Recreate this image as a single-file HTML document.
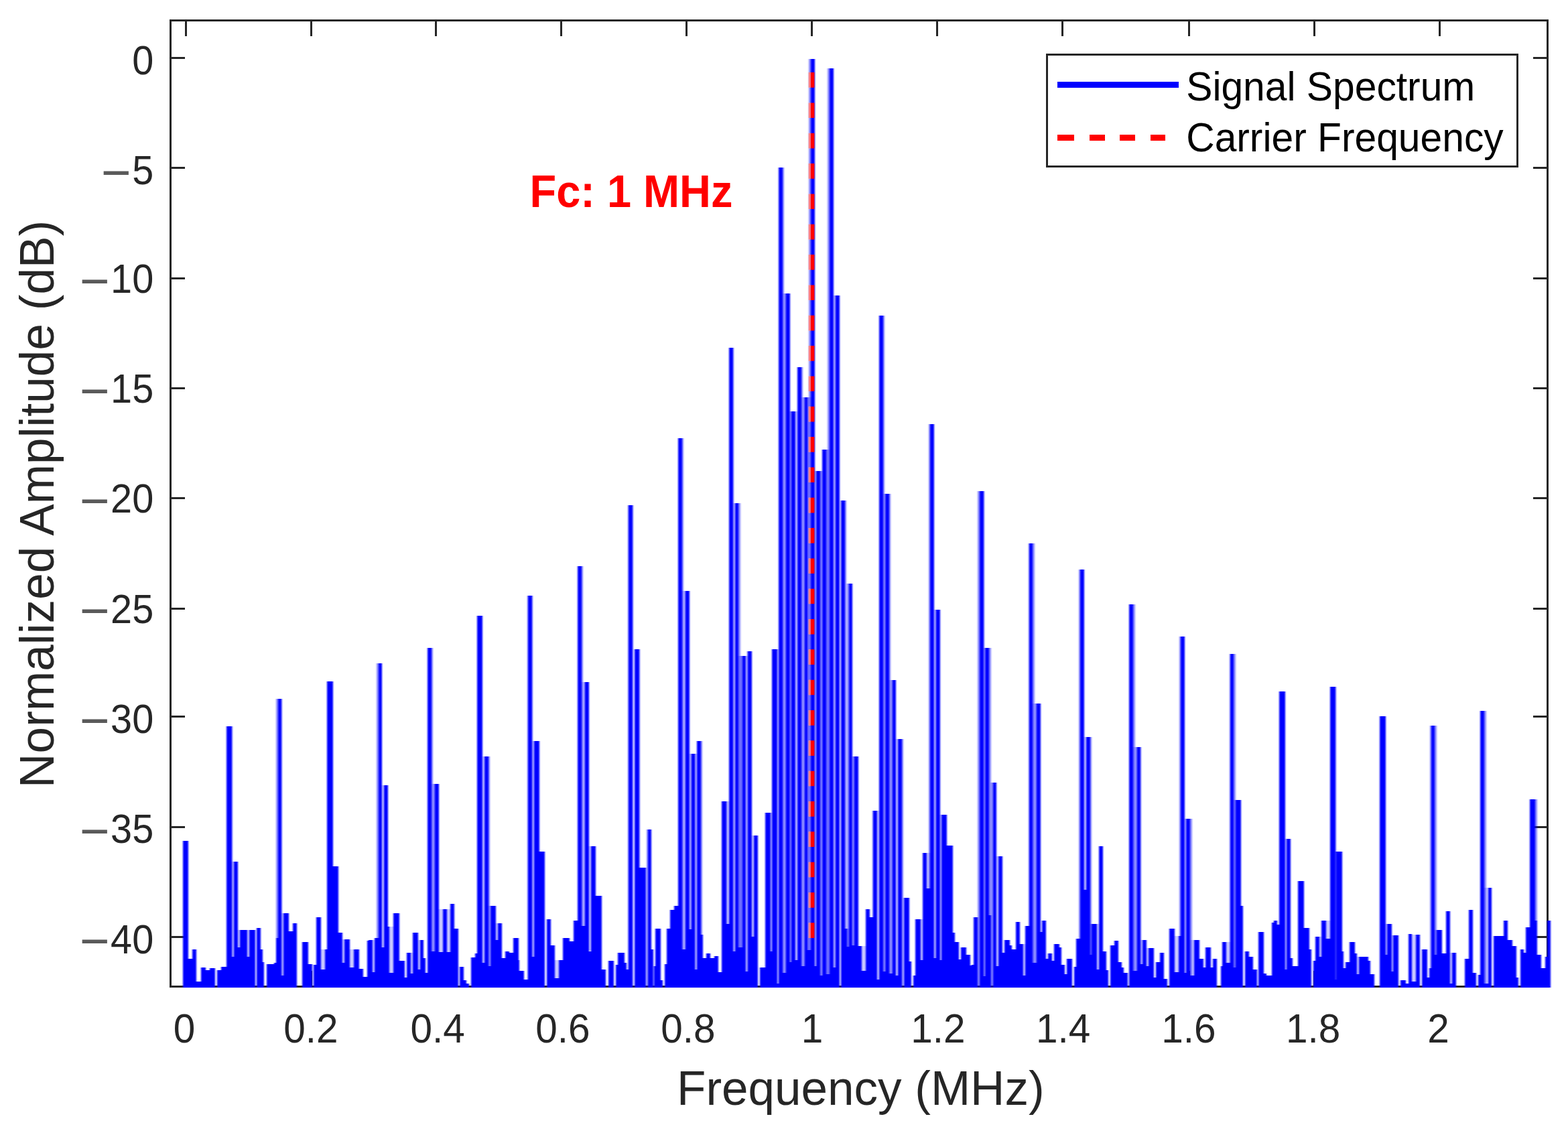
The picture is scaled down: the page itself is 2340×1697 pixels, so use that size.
<!DOCTYPE html>
<html><head><meta charset="utf-8"><title>Signal Spectrum</title>
<style>
html,body{margin:0;padding:0;background:#fff}
svg{display:block}
text{font-family:"Liberation Sans",Arial,Helvetica,sans-serif}
</style></head><body>
<svg width="2340" height="1697" viewBox="0 0 2340 1697">
<rect width="2340" height="1697" fill="#fff"/>

<g stroke="#262626" stroke-width="3" fill="none" shape-rendering="crispEdges">
<rect x="254.5" y="30.5" width="2055.0" height="1442.0"/>
<path d="M277.3 1472.5v-23.3M277.3 30.5v23.3"/>
<path d="M464.0 1472.5v-23.3M464.0 30.5v23.3"/>
<path d="M650.7 1472.5v-23.3M650.7 30.5v23.3"/>
<path d="M837.5 1472.5v-23.3M837.5 30.5v23.3"/>
<path d="M1024.5 1472.5v-23.3M1024.5 30.5v23.3"/>
<path d="M1211.4 1472.5v-23.3M1211.4 30.5v23.3"/>
<path d="M1398.3 1472.5v-23.3M1398.3 30.5v23.3"/>
<path d="M1585.0 1472.5v-23.3M1585.0 30.5v23.3"/>
<path d="M1774.5 1472.5v-23.3M1774.5 30.5v23.3"/>
<path d="M1961.4 1472.5v-23.3M1961.4 30.5v23.3"/>
<path d="M2148.4 1472.5v-23.3M2148.4 30.5v23.3"/>
<path d="M254.5 86.6h21.5M2309.5 86.6h-21.5"/>
<path d="M254.5 250.5h21.5M2309.5 250.5h-21.5"/>
<path d="M254.5 415.2h21.5M2309.5 415.2h-21.5"/>
<path d="M254.5 579.5h21.5M2309.5 579.5h-21.5"/>
<path d="M254.5 743.8h21.5M2309.5 743.8h-21.5"/>
<path d="M254.5 908.2h21.5M2309.5 908.2h-21.5"/>
<path d="M254.5 1069.7h21.5M2309.5 1069.7h-21.5"/>
<path d="M254.5 1234.0h21.5M2309.5 1234.0h-21.5"/>
<path d="M254.5 1398.4h21.5M2309.5 1398.4h-21.5"/>
</g>
<text transform="translate(275.0 1555.6) scale(0.9435 1.0)" text-anchor="middle" style="font-size:62px;fill:#262626">0</text>
<text transform="translate(463.9 1555.6) scale(0.9435 1.0)" text-anchor="middle" style="font-size:62px;fill:#262626">0.2</text>
<text transform="translate(653.1 1555.6) scale(0.9435 1.0)" text-anchor="middle" style="font-size:62px;fill:#262626">0.4</text>
<text transform="translate(839.9 1555.6) scale(0.9435 1.0)" text-anchor="middle" style="font-size:62px;fill:#262626">0.6</text>
<text transform="translate(1027.0 1555.6) scale(0.9435 1.0)" text-anchor="middle" style="font-size:62px;fill:#262626">0.8</text>
<text transform="translate(1211.9 1555.6) scale(0.9435 1.0)" text-anchor="middle" style="font-size:62px;fill:#262626">1</text>
<text transform="translate(1400.0 1555.6) scale(0.9435 1.0)" text-anchor="middle" style="font-size:62px;fill:#262626">1.2</text>
<text transform="translate(1586.7 1555.6) scale(0.9435 1.0)" text-anchor="middle" style="font-size:62px;fill:#262626">1.4</text>
<text transform="translate(1774.0 1555.6) scale(0.9435 1.0)" text-anchor="middle" style="font-size:62px;fill:#262626">1.6</text>
<text transform="translate(1959.6 1555.6) scale(0.9435 1.0)" text-anchor="middle" style="font-size:62px;fill:#262626">1.8</text>
<text transform="translate(2146.4 1555.6) scale(0.9435 1.0)" text-anchor="middle" style="font-size:62px;fill:#262626">2</text>
<text transform="translate(229.2 111.2) scale(0.929 1.0)" text-anchor="end" style="font-size:62px;fill:#262626">0</text>
<text style="font-size:62px;fill:#262626"><tspan x="151.8" y="278.5" textLength="43" lengthAdjust="spacingAndGlyphs" style="fill:#5a5a5a;stroke:#5a5a5a;stroke-width:1.2px">−</tspan><tspan x="197.2" y="274.9" textLength="32.0" lengthAdjust="spacingAndGlyphs">5</tspan></text>
<text style="font-size:62px;fill:#262626"><tspan x="119.7" y="440.6" textLength="43" lengthAdjust="spacingAndGlyphs" style="fill:#5a5a5a;stroke:#5a5a5a;stroke-width:1.2px">−</tspan><tspan x="165.1" y="437.0" textLength="64.1" lengthAdjust="spacingAndGlyphs">10</tspan></text>
<text style="font-size:62px;fill:#262626"><tspan x="119.7" y="604.5" textLength="43" lengthAdjust="spacingAndGlyphs" style="fill:#5a5a5a;stroke:#5a5a5a;stroke-width:1.2px">−</tspan><tspan x="165.1" y="600.9" textLength="64.1" lengthAdjust="spacingAndGlyphs">15</tspan></text>
<text style="font-size:62px;fill:#262626"><tspan x="119.7" y="768.8" textLength="43" lengthAdjust="spacingAndGlyphs" style="fill:#5a5a5a;stroke:#5a5a5a;stroke-width:1.2px">−</tspan><tspan x="165.1" y="765.2" textLength="64.1" lengthAdjust="spacingAndGlyphs">20</tspan></text>
<text style="font-size:62px;fill:#262626"><tspan x="119.7" y="933.4" textLength="43" lengthAdjust="spacingAndGlyphs" style="fill:#5a5a5a;stroke:#5a5a5a;stroke-width:1.2px">−</tspan><tspan x="165.1" y="929.8" textLength="64.1" lengthAdjust="spacingAndGlyphs">25</tspan></text>
<text style="font-size:62px;fill:#262626"><tspan x="119.7" y="1097.3" textLength="43" lengthAdjust="spacingAndGlyphs" style="fill:#5a5a5a;stroke:#5a5a5a;stroke-width:1.2px">−</tspan><tspan x="165.1" y="1093.7" textLength="64.1" lengthAdjust="spacingAndGlyphs">30</tspan></text>
<text style="font-size:62px;fill:#262626"><tspan x="119.7" y="1261.9" textLength="43" lengthAdjust="spacingAndGlyphs" style="fill:#5a5a5a;stroke:#5a5a5a;stroke-width:1.2px">−</tspan><tspan x="165.1" y="1258.3" textLength="64.1" lengthAdjust="spacingAndGlyphs">35</tspan></text>
<text style="font-size:62px;fill:#262626"><tspan x="119.7" y="1426.4" textLength="43" lengthAdjust="spacingAndGlyphs" style="fill:#5a5a5a;stroke:#5a5a5a;stroke-width:1.2px">−</tspan><tspan x="165.1" y="1422.8" textLength="64.1" lengthAdjust="spacingAndGlyphs">40</tspan></text>
<text transform="translate(1284.3 1648.6) scale(0.992 1.0)" text-anchor="middle" style="font-size:71.6px;fill:#262626">Frequency (MHz)</text>
<text transform="translate(80.3 752.3) rotate(-90) scale(0.995 1.0)" text-anchor="middle" style="font-size:71.6px;fill:#262626">Normalized Amplitude (dB)</text>
<defs><filter id="aa" filterUnits="userSpaceOnUse" x="240" y="20" width="2090" height="1470"><feGaussianBlur stdDeviation="1.2 0"/></filter></defs>
<g fill="#0000ff" shape-rendering="crispEdges" filter="url(#aa)">
<rect x="273.1" y="1254.6" width="7.9" height="219.4"/>
<rect x="280.9" y="1431.2" width="6.3" height="42.8"/>
<rect x="287.2" y="1417.3" width="5.8" height="56.7"/>
<rect x="293.0" y="1465.4" width="7.3" height="8.6"/>
<rect x="300.3" y="1444.3" width="6.6" height="29.7"/>
<rect x="306.9" y="1447.9" width="5.8" height="26.1"/>
<rect x="312.7" y="1445.0" width="8.0" height="29.0"/>
<rect x="324.1" y="1447.9" width="5.4" height="26.1"/>
<rect x="329.5" y="1442.8" width="8.8" height="31.2"/>
<rect x="338.3" y="1083.5" width="8.0" height="390.5"/>
<rect x="338.1" y="1083.5" width="8.5" height="390.5" fill-opacity="0.45"/>
<rect x="346.3" y="1428.2" width="2.9" height="45.8"/>
<rect x="349.2" y="1286.0" width="5.8" height="188.0"/>
<rect x="355.1" y="1414.4" width="2.9" height="59.6"/>
<rect x="358.0" y="1388.1" width="10.9" height="85.9"/>
<rect x="368.9" y="1428.2" width="3.4" height="45.8"/>
<rect x="372.3" y="1388.1" width="8.3" height="85.9"/>
<rect x="383.1" y="1385.2" width="5.8" height="88.8"/>
<rect x="388.9" y="1417.3" width="2.9" height="56.7"/>
<rect x="391.8" y="1435.5" width="2.6" height="38.5"/>
<rect x="397.7" y="1438.5" width="11.4" height="35.5"/>
<rect x="409.1" y="1437.0" width="2.9" height="37.0"/>
<rect x="412.0" y="1399.8" width="2.6" height="74.2"/>
<rect x="414.6" y="1043.1" width="5.4" height="430.9"/>
<rect x="412.2" y="1043.1" width="8.4" height="430.9" fill-opacity="0.45"/>
<rect x="420.0" y="1456.0" width="3.2" height="18.0"/>
<rect x="423.2" y="1363.3" width="7.7" height="110.7"/>
<rect x="430.9" y="1390.3" width="5.8" height="83.7"/>
<rect x="436.8" y="1377.9" width="6.1" height="96.1"/>
<rect x="451.4" y="1405.6" width="8.3" height="68.4"/>
<rect x="459.7" y="1439.2" width="6.0" height="34.8"/>
<rect x="468.2" y="1439.9" width="3.4" height="34.1"/>
<rect x="471.5" y="1369.1" width="7.9" height="104.9"/>
<rect x="479.4" y="1446.5" width="5.8" height="27.5"/>
<rect x="485.2" y="1417.3" width="2.9" height="56.7"/>
<rect x="488.1" y="1017.4" width="8.5" height="456.6"/>
<rect x="488.1" y="1017.4" width="8.5" height="456.6" fill-opacity="0.45"/>
<rect x="496.6" y="1293.3" width="8.3" height="180.7"/>
<rect x="504.9" y="1391.8" width="6.3" height="82.2"/>
<rect x="511.2" y="1437.0" width="2.9" height="37.0"/>
<rect x="514.1" y="1402.0" width="7.6" height="72.0"/>
<rect x="521.7" y="1444.3" width="6.3" height="29.7"/>
<rect x="528.0" y="1416.6" width="8.0" height="57.4"/>
<rect x="536.0" y="1445.7" width="5.8" height="28.3"/>
<rect x="541.8" y="1458.2" width="5.8" height="15.8"/>
<rect x="547.7" y="1404.2" width="2.3" height="69.8"/>
<rect x="550.0" y="1403.4" width="5.8" height="70.6"/>
<rect x="555.8" y="1450.9" width="3.2" height="23.1"/>
<rect x="559.0" y="1399.8" width="5.5" height="74.2"/>
<rect x="564.6" y="989.6" width="5.8" height="484.4"/>
<rect x="562.2" y="989.6" width="8.2" height="484.4" fill-opacity="0.45"/>
<rect x="570.4" y="1413.6" width="2.6" height="60.4"/>
<rect x="573.1" y="1171.6" width="6.1" height="302.4"/>
<rect x="573.1" y="1171.6" width="6.3" height="302.4" fill-opacity="0.45"/>
<rect x="579.2" y="1383.0" width="2.2" height="91.0"/>
<rect x="581.4" y="1451.6" width="5.8" height="22.4"/>
<rect x="587.2" y="1363.3" width="8.3" height="110.7"/>
<rect x="595.5" y="1434.1" width="8.5" height="39.9"/>
<rect x="604.0" y="1458.9" width="2.9" height="15.1"/>
<rect x="606.9" y="1422.4" width="5.8" height="51.6"/>
<rect x="612.7" y="1453.0" width="3.2" height="21.0"/>
<rect x="616.0" y="1391.8" width="7.7" height="82.2"/>
<rect x="623.7" y="1447.2" width="3.4" height="26.8"/>
<rect x="627.0" y="1402.7" width="5.4" height="71.3"/>
<rect x="632.4" y="1430.4" width="2.9" height="43.6"/>
<rect x="635.4" y="1451.6" width="2.9" height="22.4"/>
<rect x="638.3" y="966.6" width="5.8" height="507.4"/>
<rect x="638.3" y="966.6" width="8.0" height="507.4" fill-opacity="0.45"/>
<rect x="644.1" y="1419.5" width="5.1" height="54.5"/>
<rect x="649.2" y="1169.5" width="5.8" height="304.5"/>
<rect x="646.8" y="1169.5" width="8.3" height="304.5" fill-opacity="0.45"/>
<rect x="655.1" y="1420.9" width="5.8" height="53.1"/>
<rect x="660.9" y="1356.7" width="5.8" height="117.3"/>
<rect x="666.7" y="1420.9" width="5.1" height="53.1"/>
<rect x="671.8" y="1349.4" width="6.3" height="124.6"/>
<rect x="678.1" y="1385.9" width="5.4" height="88.1"/>
<rect x="686.4" y="1442.8" width="5.4" height="31.2"/>
<rect x="691.8" y="1462.5" width="4.1" height="11.5"/>
<rect x="695.9" y="1467.6" width="4.4" height="6.4"/>
<rect x="703.2" y="1429.0" width="5.8" height="45.0"/>
<rect x="709.1" y="1423.1" width="3.2" height="50.9"/>
<rect x="712.3" y="918.7" width="7.7" height="555.3"/>
<rect x="712.2" y="918.7" width="7.9" height="555.3" fill-opacity="0.45"/>
<rect x="720.0" y="1437.0" width="3.2" height="37.0"/>
<rect x="723.2" y="1128.5" width="5.5" height="345.5"/>
<rect x="723.2" y="1128.5" width="7.5" height="345.5" fill-opacity="0.45"/>
<rect x="728.8" y="1442.1" width="3.4" height="31.9"/>
<rect x="732.1" y="1351.6" width="7.6" height="122.4"/>
<rect x="739.7" y="1402.7" width="3.2" height="71.3"/>
<rect x="742.9" y="1377.5" width="5.8" height="96.5"/>
<rect x="748.7" y="1429.7" width="5.5" height="44.3"/>
<rect x="754.3" y="1420.2" width="5.8" height="53.8"/>
<rect x="760.1" y="1422.4" width="5.5" height="51.6"/>
<rect x="765.7" y="1399.8" width="7.9" height="74.2"/>
<rect x="773.6" y="1432.6" width="1.2" height="41.4"/>
<rect x="774.7" y="1448.7" width="7.6" height="25.3"/>
<rect x="782.3" y="1461.8" width="5.8" height="12.2"/>
<rect x="788.1" y="888.6" width="5.8" height="585.4"/>
<rect x="787.0" y="888.6" width="8.0" height="585.4" fill-opacity="0.45"/>
<rect x="794.0" y="1428.2" width="2.9" height="45.8"/>
<rect x="796.9" y="1105.5" width="8.5" height="368.5"/>
<rect x="796.9" y="1105.5" width="8.5" height="368.5" fill-opacity="0.45"/>
<rect x="805.4" y="1270.6" width="8.0" height="203.4"/>
<rect x="816.3" y="1372.1" width="5.8" height="101.9"/>
<rect x="822.1" y="1410.7" width="5.8" height="63.3"/>
<rect x="828.0" y="1459.6" width="5.8" height="14.4"/>
<rect x="833.8" y="1432.6" width="5.8" height="41.4"/>
<rect x="839.7" y="1399.8" width="10.4" height="74.2"/>
<rect x="850.0" y="1404.9" width="5.8" height="69.1"/>
<rect x="855.8" y="1373.5" width="6.6" height="100.5"/>
<rect x="862.4" y="845.3" width="5.1" height="628.7"/>
<rect x="861.9" y="845.3" width="7.9" height="628.7" fill-opacity="0.45"/>
<rect x="867.5" y="1382.3" width="5.5" height="91.7"/>
<rect x="873.1" y="1017.9" width="6.1" height="456.1"/>
<rect x="872.0" y="1017.9" width="7.2" height="456.1" fill-opacity="0.45"/>
<rect x="879.2" y="1419.5" width="2.6" height="54.5"/>
<rect x="881.8" y="1263.3" width="7.6" height="210.7"/>
<rect x="889.4" y="1337.0" width="8.8" height="137.0"/>
<rect x="898.2" y="1447.2" width="5.8" height="26.8"/>
<rect x="907.6" y="1434.1" width="8.0" height="39.9"/>
<rect x="918.6" y="1439.9" width="2.9" height="34.1"/>
<rect x="921.5" y="1422.4" width="10.9" height="51.6"/>
<rect x="932.4" y="1437.0" width="2.9" height="37.0"/>
<rect x="935.4" y="1447.2" width="2.9" height="26.8"/>
<rect x="938.3" y="754.1" width="5.8" height="719.9"/>
<rect x="937.0" y="754.1" width="7.5" height="719.9" fill-opacity="0.45"/>
<rect x="947.0" y="969.0" width="7.3" height="505.0"/>
<rect x="947.0" y="969.0" width="8.0" height="505.0" fill-opacity="0.45"/>
<rect x="954.3" y="1294.7" width="9.5" height="179.3"/>
<rect x="966.7" y="1237.8" width="5.1" height="236.2"/>
<rect x="965.1" y="1237.8" width="6.7" height="236.2" fill-opacity="0.45"/>
<rect x="971.8" y="1417.3" width="3.6" height="56.7"/>
<rect x="975.5" y="1442.1" width="2.9" height="31.9"/>
<rect x="978.4" y="1385.9" width="7.6" height="88.1"/>
<rect x="986.0" y="1463.3" width="2.6" height="10.7"/>
<rect x="992.3" y="1439.2" width="2.9" height="34.8"/>
<rect x="995.2" y="1385.9" width="5.1" height="88.1"/>
<rect x="1000.3" y="1358.2" width="5.8" height="115.8"/>
<rect x="1006.1" y="1352.4" width="5.8" height="121.6"/>
<rect x="1012.0" y="654.3" width="5.8" height="819.7"/>
<rect x="1012.0" y="654.3" width="7.8" height="819.7" fill-opacity="0.45"/>
<rect x="1017.8" y="1417.3" width="5.1" height="56.7"/>
<rect x="1022.9" y="881.7" width="5.8" height="592.3"/>
<rect x="1022.0" y="881.7" width="6.8" height="592.3" fill-opacity="0.45"/>
<rect x="1028.8" y="1387.4" width="2.9" height="86.6"/>
<rect x="1031.7" y="1124.6" width="5.4" height="349.4"/>
<rect x="1031.2" y="1124.6" width="6.6" height="349.4" fill-opacity="0.45"/>
<rect x="1037.1" y="1447.2" width="2.6" height="26.8"/>
<rect x="1039.7" y="1105.5" width="6.6" height="368.5"/>
<rect x="1039.7" y="1105.5" width="8.7" height="368.5" fill-opacity="0.45"/>
<rect x="1046.3" y="1394.7" width="2.9" height="79.3"/>
<rect x="1049.2" y="1429.7" width="5.1" height="44.3"/>
<rect x="1054.3" y="1423.1" width="5.8" height="50.9"/>
<rect x="1060.1" y="1429.7" width="5.5" height="44.3"/>
<rect x="1065.7" y="1426.8" width="5.8" height="47.2"/>
<rect x="1071.5" y="1450.9" width="5.4" height="23.1"/>
<rect x="1076.9" y="1196.0" width="6.6" height="278.0"/>
<rect x="1076.9" y="1196.0" width="8.0" height="278.0" fill-opacity="0.45"/>
<rect x="1083.5" y="1378.6" width="4.7" height="95.4"/>
<rect x="1088.1" y="518.6" width="5.8" height="955.4"/>
<rect x="1087.5" y="518.6" width="7.0" height="955.4" fill-opacity="0.45"/>
<rect x="1094.0" y="1420.2" width="2.9" height="53.8"/>
<rect x="1096.9" y="751.4" width="5.5" height="722.6"/>
<rect x="1096.8" y="751.4" width="7.7" height="722.6" fill-opacity="0.45"/>
<rect x="1102.4" y="1413.6" width="5.8" height="60.4"/>
<rect x="1108.3" y="978.5" width="5.1" height="495.5"/>
<rect x="1105.3" y="978.5" width="8.1" height="495.5" fill-opacity="0.45"/>
<rect x="1113.4" y="1450.1" width="2.9" height="23.9"/>
<rect x="1116.3" y="972.4" width="5.8" height="501.6"/>
<rect x="1114.6" y="972.4" width="7.5" height="501.6" fill-opacity="0.45"/>
<rect x="1122.1" y="1397.6" width="2.9" height="76.4"/>
<rect x="1125.1" y="1246.6" width="5.8" height="227.4"/>
<rect x="1133.8" y="1444.3" width="8.0" height="29.7"/>
<rect x="1141.8" y="1213.2" width="8.2" height="260.8"/>
<rect x="1141.8" y="1213.2" width="8.5" height="260.8" fill-opacity="0.45"/>
<rect x="1150.0" y="1419.5" width="2.2" height="54.5"/>
<rect x="1152.2" y="969.0" width="7.3" height="505.0"/>
<rect x="1152.2" y="969.0" width="7.3" height="505.0" fill-opacity="0.45"/>
<rect x="1159.5" y="1467.6" width="2.2" height="6.4"/>
<rect x="1161.7" y="249.9" width="5.8" height="1224.1"/>
<rect x="1161.7" y="249.9" width="8.6" height="1224.1" fill-opacity="0.45"/>
<rect x="1167.5" y="1451.6" width="5.1" height="22.4"/>
<rect x="1172.6" y="437.9" width="6.6" height="1036.1"/>
<rect x="1170.9" y="437.9" width="8.3" height="1036.1" fill-opacity="0.45"/>
<rect x="1179.2" y="1435.5" width="2.2" height="38.5"/>
<rect x="1181.4" y="614.4" width="5.8" height="859.6"/>
<rect x="1179.9" y="614.4" width="7.4" height="859.6" fill-opacity="0.45"/>
<rect x="1187.2" y="1433.3" width="2.5" height="40.7"/>
<rect x="1189.7" y="547.7" width="6.7" height="926.3"/>
<rect x="1189.7" y="547.7" width="8.2" height="926.3" fill-opacity="0.45"/>
<rect x="1196.4" y="1442.1" width="4.7" height="31.9"/>
<rect x="1201.1" y="592.7" width="3.6" height="881.3"/>
<rect x="1199.2" y="592.7" width="7.4" height="881.3" fill-opacity="0.45"/>
<rect x="1204.7" y="1418.0" width="4.8" height="56.0"/>
<rect x="1209.5" y="87.5" width="6.1" height="1386.5"/>
<rect x="1207.3" y="87.5" width="8.5" height="1386.5" fill-opacity="0.45"/>
<rect x="1215.7" y="1442.1" width="2.6" height="31.9"/>
<rect x="1218.3" y="703.0" width="6.1" height="771.0"/>
<rect x="1218.3" y="703.0" width="7.9" height="771.0" fill-opacity="0.45"/>
<rect x="1224.4" y="1456.0" width="2.6" height="18.0"/>
<rect x="1227.0" y="671.3" width="5.8" height="802.7"/>
<rect x="1227.0" y="671.3" width="7.9" height="802.7" fill-opacity="0.45"/>
<rect x="1232.9" y="1453.8" width="5.0" height="20.2"/>
<rect x="1237.8" y="102.1" width="6.3" height="1371.9"/>
<rect x="1235.2" y="102.1" width="8.9" height="1371.9" fill-opacity="0.45"/>
<rect x="1244.1" y="1444.3" width="2.5" height="29.7"/>
<rect x="1246.6" y="440.6" width="6.0" height="1033.4"/>
<rect x="1246.0" y="440.6" width="7.4" height="1033.4" fill-opacity="0.45"/>
<rect x="1254.8" y="746.7" width="6.4" height="727.3"/>
<rect x="1254.8" y="746.7" width="8.4" height="727.3" fill-opacity="0.45"/>
<rect x="1261.2" y="1385.9" width="2.9" height="88.1"/>
<rect x="1264.1" y="1412.9" width="2.6" height="61.1"/>
<rect x="1266.7" y="871.1" width="5.1" height="602.9"/>
<rect x="1264.0" y="871.1" width="8.0" height="602.9" fill-opacity="0.45"/>
<rect x="1271.8" y="1410.7" width="3.4" height="63.3"/>
<rect x="1275.2" y="1128.5" width="5.8" height="345.5"/>
<rect x="1273.3" y="1128.5" width="7.7" height="345.5" fill-opacity="0.45"/>
<rect x="1281.0" y="1411.5" width="5.4" height="62.5"/>
<rect x="1286.4" y="1448.7" width="5.4" height="25.3"/>
<rect x="1291.8" y="1356.7" width="6.3" height="117.3"/>
<rect x="1298.1" y="1369.1" width="5.1" height="104.9"/>
<rect x="1303.2" y="1209.7" width="5.8" height="264.3"/>
<rect x="1301.9" y="1209.7" width="7.2" height="264.3" fill-opacity="0.45"/>
<rect x="1309.1" y="1461.8" width="2.9" height="12.2"/>
<rect x="1312.0" y="471.0" width="5.8" height="1003.0"/>
<rect x="1312.0" y="471.0" width="7.6" height="1003.0" fill-opacity="0.45"/>
<rect x="1317.8" y="1450.1" width="2.9" height="23.9"/>
<rect x="1320.7" y="737.4" width="5.8" height="736.6"/>
<rect x="1320.7" y="737.4" width="8.1" height="736.6" fill-opacity="0.45"/>
<rect x="1326.6" y="1453.0" width="5.1" height="21.0"/>
<rect x="1331.7" y="1014.8" width="5.4" height="459.2"/>
<rect x="1330.2" y="1014.8" width="7.1" height="459.2" fill-opacity="0.45"/>
<rect x="1337.1" y="1456.0" width="2.6" height="18.0"/>
<rect x="1339.7" y="1103.4" width="6.6" height="370.6"/>
<rect x="1339.7" y="1103.4" width="8.4" height="370.6" fill-opacity="0.45"/>
<rect x="1349.2" y="1340.0" width="7.7" height="134.0"/>
<rect x="1356.9" y="1434.8" width="2.8" height="39.2"/>
<rect x="1363.0" y="1456.0" width="2.9" height="18.0"/>
<rect x="1366.0" y="1372.1" width="8.0" height="101.9"/>
<rect x="1374.0" y="1432.6" width="2.9" height="41.4"/>
<rect x="1376.9" y="1272.8" width="6.3" height="201.2"/>
<rect x="1383.2" y="1326.1" width="5.0" height="147.9"/>
<rect x="1388.1" y="633.2" width="5.5" height="840.8"/>
<rect x="1385.7" y="633.2" width="8.0" height="840.8" fill-opacity="0.45"/>
<rect x="1393.7" y="1429.7" width="3.2" height="44.3"/>
<rect x="1396.9" y="909.5" width="5.8" height="564.5"/>
<rect x="1395.8" y="909.5" width="7.1" height="564.5" fill-opacity="0.45"/>
<rect x="1402.7" y="1432.6" width="2.6" height="41.4"/>
<rect x="1405.4" y="1215.8" width="8.0" height="258.2"/>
<rect x="1405.4" y="1215.8" width="8.0" height="258.2" fill-opacity="0.45"/>
<rect x="1413.4" y="1261.9" width="8.3" height="212.1"/>
<rect x="1421.7" y="1391.8" width="3.4" height="82.2"/>
<rect x="1425.1" y="1405.6" width="5.8" height="68.4"/>
<rect x="1430.9" y="1431.9" width="2.9" height="42.1"/>
<rect x="1433.8" y="1414.4" width="8.0" height="59.6"/>
<rect x="1441.8" y="1425.3" width="5.8" height="48.7"/>
<rect x="1447.7" y="1441.4" width="2.3" height="32.6"/>
<rect x="1450.0" y="1439.9" width="2.9" height="34.1"/>
<rect x="1452.9" y="1369.1" width="6.1" height="104.9"/>
<rect x="1462.0" y="733.1" width="5.5" height="740.9"/>
<rect x="1459.3" y="733.1" width="9.2" height="740.9" fill-opacity="0.45"/>
<rect x="1467.5" y="1457.4" width="2.9" height="16.6"/>
<rect x="1470.4" y="967.2" width="5.8" height="506.8"/>
<rect x="1470.4" y="967.2" width="8.2" height="506.8" fill-opacity="0.45"/>
<rect x="1476.3" y="1365.5" width="2.9" height="108.5"/>
<rect x="1481.8" y="1168.3" width="5.4" height="305.7"/>
<rect x="1479.0" y="1168.3" width="8.2" height="305.7" fill-opacity="0.45"/>
<rect x="1487.2" y="1442.1" width="2.5" height="31.9"/>
<rect x="1489.7" y="1277.9" width="6.7" height="196.1"/>
<rect x="1496.4" y="1422.4" width="2.5" height="51.6"/>
<rect x="1498.9" y="1403.4" width="8.0" height="70.6"/>
<rect x="1506.9" y="1410.7" width="3.2" height="63.3"/>
<rect x="1510.1" y="1416.6" width="5.5" height="57.4"/>
<rect x="1515.7" y="1375.7" width="5.8" height="98.3"/>
<rect x="1521.5" y="1409.3" width="5.5" height="64.7"/>
<rect x="1527.0" y="1456.0" width="2.9" height="18.0"/>
<rect x="1530.0" y="1382.3" width="6.1" height="91.7"/>
<rect x="1536.1" y="811.1" width="5.1" height="662.9"/>
<rect x="1535.4" y="811.1" width="8.6" height="662.9" fill-opacity="0.45"/>
<rect x="1541.2" y="1437.0" width="5.4" height="37.0"/>
<rect x="1546.6" y="1049.7" width="6.0" height="424.3"/>
<rect x="1544.7" y="1049.7" width="7.9" height="424.3" fill-opacity="0.45"/>
<rect x="1552.6" y="1391.0" width="2.5" height="83.0"/>
<rect x="1555.1" y="1374.2" width="6.1" height="99.8"/>
<rect x="1561.2" y="1431.2" width="2.9" height="42.8"/>
<rect x="1564.1" y="1423.1" width="5.5" height="50.9"/>
<rect x="1569.7" y="1434.1" width="2.9" height="39.9"/>
<rect x="1572.6" y="1409.3" width="8.0" height="64.7"/>
<rect x="1580.6" y="1413.6" width="2.9" height="60.4"/>
<rect x="1583.5" y="1439.9" width="5.4" height="34.1"/>
<rect x="1588.9" y="1453.8" width="3.4" height="20.2"/>
<rect x="1592.3" y="1431.2" width="8.0" height="42.8"/>
<rect x="1603.2" y="1442.8" width="2.9" height="31.2"/>
<rect x="1606.1" y="1401.2" width="5.8" height="72.8"/>
<rect x="1612.0" y="850.3" width="5.8" height="623.7"/>
<rect x="1609.5" y="850.3" width="8.5" height="623.7" fill-opacity="0.45"/>
<rect x="1617.8" y="1328.3" width="2.9" height="145.7"/>
<rect x="1620.7" y="1099.5" width="5.8" height="374.5"/>
<rect x="1620.6" y="1099.5" width="8.0" height="374.5" fill-opacity="0.45"/>
<rect x="1626.6" y="1425.3" width="2.6" height="48.7"/>
<rect x="1629.2" y="1378.6" width="7.9" height="95.4"/>
<rect x="1637.1" y="1447.2" width="2.6" height="26.8"/>
<rect x="1639.7" y="1263.3" width="6.1" height="210.7"/>
<rect x="1645.8" y="1419.5" width="5.5" height="54.5"/>
<rect x="1651.4" y="1447.9" width="2.9" height="26.1"/>
<rect x="1657.2" y="1410.7" width="5.8" height="63.3"/>
<rect x="1663.0" y="1404.2" width="5.8" height="69.8"/>
<rect x="1668.9" y="1436.3" width="5.1" height="37.7"/>
<rect x="1674.0" y="1444.3" width="2.9" height="29.7"/>
<rect x="1676.9" y="1452.3" width="6.3" height="21.7"/>
<rect x="1685.2" y="901.6" width="5.5" height="572.4"/>
<rect x="1685.2" y="901.6" width="8.8" height="572.4" fill-opacity="0.45"/>
<rect x="1690.8" y="1448.7" width="6.1" height="25.3"/>
<rect x="1696.9" y="1114.8" width="5.5" height="359.2"/>
<rect x="1694.7" y="1114.8" width="7.9" height="359.2" fill-opacity="0.45"/>
<rect x="1702.4" y="1439.2" width="2.9" height="34.8"/>
<rect x="1705.4" y="1402.7" width="5.5" height="71.3"/>
<rect x="1710.9" y="1442.1" width="2.9" height="31.9"/>
<rect x="1713.8" y="1415.1" width="8.3" height="58.9"/>
<rect x="1722.1" y="1458.9" width="2.9" height="15.1"/>
<rect x="1725.1" y="1435.5" width="5.8" height="38.5"/>
<rect x="1730.9" y="1422.4" width="5.8" height="51.6"/>
<rect x="1736.7" y="1461.1" width="5.1" height="12.9"/>
<rect x="1744.8" y="1385.9" width="5.3" height="88.1"/>
<rect x="1750.0" y="1385.9" width="3.2" height="88.1"/>
<rect x="1753.2" y="1450.9" width="5.8" height="23.1"/>
<rect x="1759.0" y="1396.9" width="2.9" height="77.1"/>
<rect x="1762.0" y="950.0" width="5.5" height="524.0"/>
<rect x="1759.5" y="950.0" width="8.0" height="524.0" fill-opacity="0.45"/>
<rect x="1767.5" y="1451.6" width="2.9" height="22.4"/>
<rect x="1770.4" y="1221.7" width="5.8" height="252.3"/>
<rect x="1770.4" y="1221.7" width="8.4" height="252.3" fill-opacity="0.45"/>
<rect x="1776.3" y="1456.0" width="5.5" height="18.0"/>
<rect x="1781.8" y="1402.7" width="7.9" height="71.3"/>
<rect x="1789.7" y="1431.2" width="6.7" height="42.8"/>
<rect x="1796.4" y="1444.3" width="2.5" height="29.7"/>
<rect x="1798.9" y="1414.4" width="8.0" height="59.6"/>
<rect x="1806.9" y="1444.3" width="3.2" height="29.7"/>
<rect x="1810.1" y="1431.2" width="5.5" height="42.8"/>
<rect x="1821.5" y="1442.1" width="2.9" height="31.9"/>
<rect x="1824.4" y="1406.4" width="5.5" height="67.6"/>
<rect x="1830.0" y="1437.0" width="5.8" height="37.0"/>
<rect x="1835.8" y="975.9" width="5.4" height="498.1"/>
<rect x="1835.4" y="975.9" width="8.3" height="498.1" fill-opacity="0.45"/>
<rect x="1841.2" y="1444.3" width="2.9" height="29.7"/>
<rect x="1844.1" y="1193.9" width="8.0" height="280.1"/>
<rect x="1844.1" y="1193.9" width="8.0" height="280.1" fill-opacity="0.45"/>
<rect x="1852.1" y="1351.6" width="2.9" height="122.4"/>
<rect x="1858.0" y="1419.5" width="5.8" height="54.5"/>
<rect x="1863.8" y="1427.5" width="5.8" height="46.5"/>
<rect x="1869.7" y="1447.2" width="5.8" height="26.8"/>
<rect x="1878.1" y="1391.0" width="7.9" height="83.0"/>
<rect x="1886.0" y="1453.0" width="3.8" height="21.0"/>
<rect x="1889.8" y="1456.0" width="8.3" height="18.0"/>
<rect x="1898.1" y="1377.2" width="2.9" height="96.8"/>
<rect x="1901.0" y="1374.2" width="5.1" height="99.8"/>
<rect x="1906.1" y="1380.1" width="3.2" height="93.9"/>
<rect x="1909.3" y="1032.0" width="8.5" height="442.0"/>
<rect x="1909.3" y="1032.0" width="8.5" height="442.0" fill-opacity="0.45"/>
<rect x="1917.8" y="1447.2" width="2.6" height="26.8"/>
<rect x="1920.4" y="1252.4" width="5.8" height="221.6"/>
<rect x="1926.3" y="1430.4" width="2.9" height="43.6"/>
<rect x="1929.2" y="1442.1" width="7.9" height="31.9"/>
<rect x="1937.1" y="1315.1" width="8.8" height="158.9"/>
<rect x="1945.8" y="1385.2" width="8.5" height="88.8"/>
<rect x="1954.3" y="1417.3" width="2.9" height="56.7"/>
<rect x="1960.1" y="1434.1" width="2.9" height="39.9"/>
<rect x="1963.0" y="1397.6" width="5.8" height="76.4"/>
<rect x="1968.9" y="1428.2" width="2.6" height="45.8"/>
<rect x="1971.5" y="1374.2" width="7.9" height="99.8"/>
<rect x="1979.4" y="1400.5" width="5.8" height="73.5"/>
<rect x="1985.2" y="1025.4" width="7.7" height="448.6"/>
<rect x="1985.2" y="1025.4" width="8.5" height="448.6" fill-opacity="0.45"/>
<rect x="1993.0" y="1461.8" width="1.0" height="12.2"/>
<rect x="1994.0" y="1271.4" width="8.5" height="202.6"/>
<rect x="2002.4" y="1420.2" width="2.9" height="53.8"/>
<rect x="2005.4" y="1445.0" width="2.9" height="29.0"/>
<rect x="2008.3" y="1436.3" width="5.8" height="37.7"/>
<rect x="2014.1" y="1405.6" width="8.0" height="68.4"/>
<rect x="2022.1" y="1423.1" width="2.9" height="50.9"/>
<rect x="2025.1" y="1453.8" width="2.9" height="20.2"/>
<rect x="2028.0" y="1428.2" width="13.9" height="45.8"/>
<rect x="2041.8" y="1434.1" width="2.9" height="39.9"/>
<rect x="2044.8" y="1453.8" width="5.3" height="20.2"/>
<rect x="2040.0" y="1428.2" width="1.8" height="45.8"/>
<rect x="2041.8" y="1434.1" width="3.1" height="39.9"/>
<rect x="2044.8" y="1453.8" width="5.7" height="20.2"/>
<rect x="2059.0" y="1069.2" width="8.5" height="404.8"/>
<rect x="2059.0" y="1069.2" width="8.7" height="404.8" fill-opacity="0.45"/>
<rect x="2067.4" y="1424.6" width="2.9" height="49.4"/>
<rect x="2070.4" y="1378.6" width="6.1" height="95.4"/>
<rect x="2076.5" y="1450.1" width="2.6" height="23.9"/>
<rect x="2079.1" y="1396.1" width="7.9" height="77.9"/>
<rect x="2089.9" y="1463.3" width="8.5" height="10.7"/>
<rect x="2098.4" y="1467.6" width="3.2" height="6.4"/>
<rect x="2101.6" y="1393.9" width="5.5" height="80.1"/>
<rect x="2107.1" y="1464.7" width="5.5" height="9.3"/>
<rect x="2112.7" y="1394.7" width="5.8" height="79.3"/>
<rect x="2121.7" y="1416.6" width="8.0" height="57.4"/>
<rect x="2129.7" y="1458.9" width="3.6" height="15.1"/>
<rect x="2133.4" y="1445.0" width="2.2" height="29.0"/>
<rect x="2135.6" y="1083.0" width="5.8" height="391.0"/>
<rect x="2133.6" y="1083.0" width="9.9" height="391.0" fill-opacity="0.45"/>
<rect x="2141.4" y="1425.3" width="2.9" height="48.7"/>
<rect x="2144.3" y="1388.1" width="8.0" height="85.9"/>
<rect x="2152.4" y="1423.1" width="5.8" height="50.9"/>
<rect x="2158.2" y="1359.7" width="5.8" height="114.3"/>
<rect x="2164.0" y="1467.6" width="2.9" height="6.4"/>
<rect x="2167.0" y="1422.4" width="5.8" height="51.6"/>
<rect x="2185.9" y="1431.2" width="5.8" height="42.8"/>
<rect x="2191.8" y="1357.5" width="6.6" height="116.5"/>
<rect x="2198.3" y="1451.6" width="5.1" height="22.4"/>
<rect x="2206.4" y="1454.5" width="2.9" height="19.5"/>
<rect x="2209.3" y="1060.5" width="5.8" height="413.5"/>
<rect x="2209.1" y="1060.5" width="8.7" height="413.5" fill-opacity="0.45"/>
<rect x="2215.1" y="1467.6" width="5.5" height="6.4"/>
<rect x="2220.7" y="1325.4" width="5.4" height="148.6"/>
<rect x="2229.3" y="1396.9" width="14.3" height="77.1"/>
<rect x="2243.6" y="1374.2" width="6.6" height="99.8"/>
<rect x="2250.1" y="1402.7" width="6.6" height="71.3"/>
<rect x="2256.7" y="1411.5" width="6.3" height="62.5"/>
<rect x="2263.0" y="1458.9" width="3.2" height="15.1"/>
<rect x="2269.1" y="1417.3" width="5.1" height="56.7"/>
<rect x="2274.2" y="1422.4" width="2.9" height="51.6"/>
<rect x="2277.1" y="1383.7" width="5.8" height="90.3"/>
<rect x="2283.0" y="1193.2" width="8.0" height="280.8"/>
<rect x="2283.0" y="1193.2" width="10.7" height="280.8" fill-opacity="0.45"/>
<rect x="2291.0" y="1374.2" width="2.9" height="99.8"/>
<rect x="2293.9" y="1425.3" width="5.8" height="48.7"/>
<rect x="2299.7" y="1445.0" width="5.8" height="29.0"/>
<rect x="2305.6" y="1428.2" width="2.9" height="45.8"/>
<rect x="2308.5" y="1374.2" width="5.5" height="99.8"/>
<rect x="346.3" y="1286.0" width="2.9" height="142.3" fill-opacity="0.2"/>
<rect x="355.1" y="1388.1" width="2.9" height="26.3" fill-opacity="0.2"/>
<rect x="368.9" y="1388.1" width="3.4" height="40.1" fill-opacity="0.2"/>
<rect x="420.0" y="1363.3" width="3.2" height="92.7" fill-opacity="0.2"/>
<rect x="479.4" y="1417.3" width="5.8" height="29.2" fill-opacity="0.2"/>
<rect x="511.2" y="1402.0" width="2.9" height="35.0" fill-opacity="0.2"/>
<rect x="521.7" y="1416.6" width="6.3" height="27.7" fill-opacity="0.2"/>
<rect x="555.8" y="1403.4" width="3.2" height="47.4" fill-opacity="0.2"/>
<rect x="570.4" y="1171.6" width="2.6" height="242.0" fill-opacity="0.2"/>
<rect x="581.4" y="1383.0" width="5.8" height="68.6" fill-opacity="0.2"/>
<rect x="612.7" y="1422.4" width="3.2" height="30.6" fill-opacity="0.2"/>
<rect x="623.7" y="1402.7" width="3.4" height="44.5" fill-opacity="0.2"/>
<rect x="644.1" y="1169.5" width="5.1" height="250.0" fill-opacity="0.2"/>
<rect x="655.1" y="1356.7" width="5.8" height="64.2" fill-opacity="0.2"/>
<rect x="666.7" y="1356.7" width="5.1" height="64.2" fill-opacity="0.2"/>
<rect x="720.0" y="1128.5" width="3.2" height="308.5" fill-opacity="0.2"/>
<rect x="728.8" y="1351.6" width="3.4" height="90.5" fill-opacity="0.2"/>
<rect x="739.7" y="1377.5" width="3.2" height="25.2" fill-opacity="0.2"/>
<rect x="794.0" y="1105.5" width="2.9" height="322.7" fill-opacity="0.2"/>
<rect x="828.0" y="1432.6" width="5.8" height="27.0" fill-opacity="0.2"/>
<rect x="867.5" y="1017.9" width="5.5" height="364.4" fill-opacity="0.2"/>
<rect x="879.2" y="1263.3" width="2.6" height="156.1" fill-opacity="0.2"/>
<rect x="1017.8" y="881.7" width="5.1" height="535.6" fill-opacity="0.2"/>
<rect x="1028.8" y="1124.6" width="2.9" height="262.8" fill-opacity="0.2"/>
<rect x="1037.1" y="1124.6" width="2.6" height="322.6" fill-opacity="0.2"/>
<rect x="1083.5" y="1196.0" width="4.7" height="182.6" fill-opacity="0.2"/>
<rect x="1094.0" y="751.4" width="2.9" height="668.8" fill-opacity="0.2"/>
<rect x="1102.4" y="978.5" width="5.8" height="435.1" fill-opacity="0.2"/>
<rect x="1113.4" y="978.5" width="2.9" height="471.6" fill-opacity="0.2"/>
<rect x="1122.1" y="1246.6" width="2.9" height="151.0" fill-opacity="0.2"/>
<rect x="1150.0" y="1213.2" width="2.2" height="206.3" fill-opacity="0.2"/>
<rect x="1159.5" y="969.0" width="2.2" height="498.6" fill-opacity="0.2"/>
<rect x="1167.5" y="437.9" width="5.1" height="1013.7" fill-opacity="0.2"/>
<rect x="1179.2" y="614.4" width="2.2" height="821.1" fill-opacity="0.2"/>
<rect x="1187.2" y="614.4" width="2.5" height="818.9" fill-opacity="0.2"/>
<rect x="1196.4" y="592.7" width="4.7" height="849.4" fill-opacity="0.2"/>
<rect x="1204.7" y="592.7" width="4.8" height="825.3" fill-opacity="0.2"/>
<rect x="1215.7" y="703.0" width="2.6" height="739.1" fill-opacity="0.2"/>
<rect x="1224.4" y="703.0" width="2.6" height="753.0" fill-opacity="0.2"/>
<rect x="1232.9" y="671.3" width="5.0" height="782.5" fill-opacity="0.2"/>
<rect x="1244.1" y="440.6" width="2.5" height="1003.7" fill-opacity="0.2"/>
<rect x="1264.1" y="1385.9" width="2.6" height="27.0" fill-opacity="0.2"/>
<rect x="1271.8" y="1128.5" width="3.4" height="282.2" fill-opacity="0.2"/>
<rect x="1286.4" y="1411.5" width="5.4" height="37.2" fill-opacity="0.2"/>
<rect x="1309.1" y="1209.7" width="2.9" height="252.1" fill-opacity="0.2"/>
<rect x="1317.8" y="737.4" width="2.9" height="712.7" fill-opacity="0.2"/>
<rect x="1326.6" y="1014.8" width="5.1" height="438.2" fill-opacity="0.2"/>
<rect x="1337.1" y="1103.4" width="2.6" height="352.6" fill-opacity="0.2"/>
<rect x="1374.0" y="1372.1" width="2.9" height="60.6" fill-opacity="0.2"/>
<rect x="1383.2" y="1272.8" width="5.0" height="53.3" fill-opacity="0.2"/>
<rect x="1393.7" y="909.5" width="3.2" height="520.2" fill-opacity="0.2"/>
<rect x="1402.7" y="1215.8" width="2.6" height="216.8" fill-opacity="0.2"/>
<rect x="1467.5" y="967.2" width="2.9" height="490.2" fill-opacity="0.2"/>
<rect x="1487.2" y="1277.9" width="2.5" height="164.2" fill-opacity="0.2"/>
<rect x="1527.0" y="1409.3" width="2.9" height="46.7" fill-opacity="0.2"/>
<rect x="1541.2" y="1049.7" width="5.4" height="387.3" fill-opacity="0.2"/>
<rect x="1617.8" y="1099.5" width="2.9" height="228.8" fill-opacity="0.2"/>
<rect x="1626.6" y="1378.6" width="2.6" height="46.7" fill-opacity="0.2"/>
<rect x="1637.1" y="1378.6" width="2.6" height="68.6" fill-opacity="0.2"/>
<rect x="1690.8" y="1114.8" width="6.1" height="333.9" fill-opacity="0.2"/>
<rect x="1702.4" y="1402.7" width="2.9" height="36.5" fill-opacity="0.2"/>
<rect x="1710.9" y="1415.1" width="2.9" height="27.0" fill-opacity="0.2"/>
<rect x="1753.2" y="1396.9" width="5.8" height="54.0" fill-opacity="0.2"/>
<rect x="1767.5" y="1221.7" width="2.9" height="229.9" fill-opacity="0.2"/>
<rect x="1776.3" y="1402.7" width="5.5" height="53.3" fill-opacity="0.2"/>
<rect x="1830.0" y="1406.4" width="5.8" height="30.6" fill-opacity="0.2"/>
<rect x="1841.2" y="1193.9" width="2.9" height="250.4" fill-opacity="0.2"/>
<rect x="1917.8" y="1252.4" width="2.6" height="194.8" fill-opacity="0.2"/>
<rect x="1968.9" y="1397.6" width="2.6" height="30.6" fill-opacity="0.2"/>
<rect x="1979.4" y="1374.2" width="5.8" height="26.3" fill-opacity="0.2"/>
<rect x="1993.0" y="1271.4" width="1.0" height="190.4" fill-opacity="0.2"/>
<rect x="2025.1" y="1428.2" width="2.9" height="25.5" fill-opacity="0.2"/>
<rect x="2067.4" y="1378.6" width="2.9" height="46.0" fill-opacity="0.2"/>
<rect x="2076.5" y="1396.1" width="2.6" height="54.0" fill-opacity="0.2"/>
<rect x="2107.1" y="1394.7" width="5.5" height="70.0" fill-opacity="0.2"/>
<rect x="2141.4" y="1388.1" width="2.9" height="37.2" fill-opacity="0.2"/>
<rect x="2164.0" y="1422.4" width="2.9" height="45.2" fill-opacity="0.2"/>
<rect x="2215.1" y="1325.4" width="5.5" height="142.3" fill-opacity="0.2"/>
</g>
<line x1="1212.45" x2="1212.45" y1="1400" y2="87" stroke="#ff0000" stroke-width="5.9" stroke-dasharray="22.66 22.67"/>
<line x1="1208.1" x2="1208.1" y1="1400" y2="87" stroke="#ffffff" stroke-width="2.8" stroke-dasharray="22.66 22.67"/>
<line x1="1208.1" x2="1208.1" y1="1400" y2="87" stroke="#ff0000" stroke-opacity="0.5" stroke-width="2.8" stroke-dasharray="22.66 22.67"/>
<text transform="translate(790.5 308.8) scale(0.959 1.0)" text-anchor="start" style="font-size:67.7px;fill:#ff0000;font-weight:bold">Fc: 1 MHz</text>
<rect x="1562" y="81.5" width="702" height="167" fill="#fff" stroke="#262626" stroke-width="3" shape-rendering="crispEdges"/>
<line x1="1578" x2="1759" y1="126.5" y2="126.5" stroke="#0000ff" stroke-width="8.5" shape-rendering="crispEdges"/>
<line x1="1578" x2="1759" y1="205.5" y2="205.5" stroke="#ff0000" stroke-width="8.5" stroke-dasharray="25.3 22.9 22.7 22.3 23 22.5 22.6 100" shape-rendering="crispEdges"/>
<text transform="translate(1770.2 150.2) scale(0.9635 1.0)" text-anchor="start" style="font-size:61px;fill:#000">Signal Spectrum</text>
<text transform="translate(1770.2 225.6) scale(0.9635 1.0)" text-anchor="start" style="font-size:61px;fill:#000">Carrier Frequency</text>
</svg></body></html>
